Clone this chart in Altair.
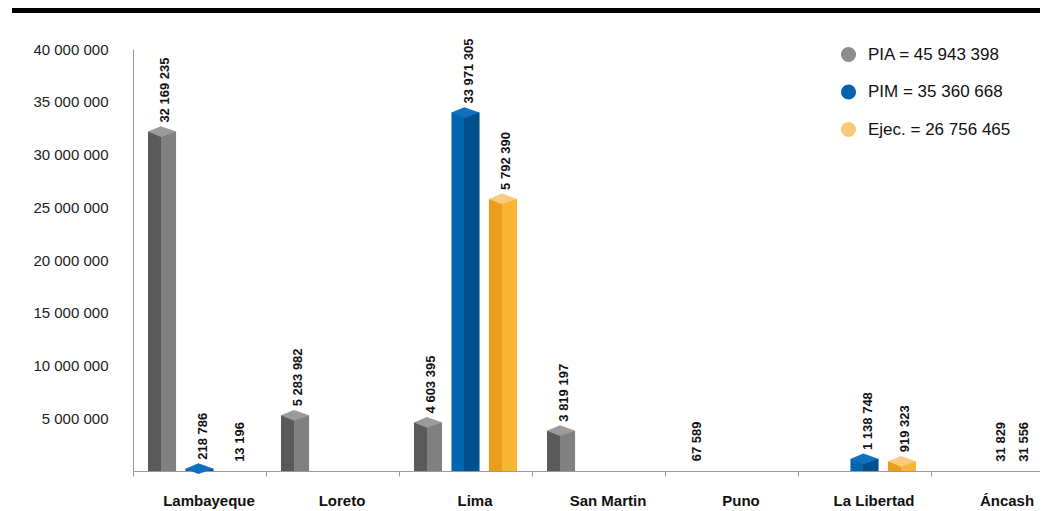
import altair as alt
import pandas as pd

categories = ["Lambayeque", "Loreto", "Lima", "San Martin", "Puno", "La Libertad", "Áncash"]
series = ["PIA", "PIM", "Ejec"]
pia = [32169235, 5283982, 4603395, 3819197, 67589, 0, 0]
pim = [218786, 0, 33971305, 0, 0, 1138748, 31829]
ejec = [13196, 0, 25792390, 0, 0, 919323, 31556]
pia_labels = ["32 169 235", "5 283 982", "4 603 395", "3 819 197", "67 589", "", ""]
pim_labels = ["218 786", "", "33 971 305", "", "", "1 138 748", "31 829"]
ejec_labels = ["13 196", "", "5 792 390", "", "", "919 323", "31 556"]
legend_labels = ["PIA = 45 943 398", "PIM = 35 360 668", "Ejec. = 26 756 465"]
y_ticks = [5000000, 10000000, 15000000, 20000000, 25000000, 30000000, 35000000, 40000000]

legend_colors = ["#8c8c8c", "#0563ad", "#fbc97a"]
faces = {
    "PIA": ("#5a5a5a", "#808080", "#9b9b9b"),
    "PIM": ("#0066b1", "#00508e", "#1170bd"),
    "Ejec": ("#ee9c1d", "#f8b634", "#fcca7c"),
}

rows = []
for s, vals, labs, leg in zip(series, [pia, pim, ejec], [pia_labels, pim_labels, ejec_labels], legend_labels):
    for c, v, l in zip(categories, vals, labs):
        rows.append({"category": c, "series": s, "value": v, "label": l, "legend": leg})
df = pd.DataFrame(rows)

FONT = "Liberation Sans, Arial, sans-serif"
PLOT_W = 907
BAND_RANGE = 931

x_enc = alt.X(
    "category:N", sort=categories,
    scale=alt.Scale(paddingInner=0, paddingOuter=0, range=[0, BAND_RANGE]),
    axis=alt.Axis(title=None, labelAngle=0, tickBand="extent", tickSize=5,
                  domainColor="#9a9a9a", tickColor="#9a9a9a",
                  labelFont=FONT, labelFontSize=15, labelBaseline="top",
                  labelFontWeight="bold", labelColor="#111111", labelPadding=17,
                  labelOffset=9),
)
xo_enc = alt.XOffset("series:N", sort=series,
                     scale=alt.Scale(domain=series, paddingInner=0.25, paddingOuter=0.4))
y_enc = alt.Y(
    "value:Q",
    scale=alt.Scale(domain=[0, 40000000], nice=False),
    axis=alt.Axis(title=None, values=y_ticks, ticks=False, grid=False,
                  domainColor="#9a9a9a", labelPadding=25,
                  labelExpr="format(datum.value / 1000000, 'd') + ' 000 000'",
                  labelFont=FONT, labelFontSize=15, labelColor="#222222"),
)

base = alt.Chart(df)
layers = []
for s in series:
    dark, light, top = faces[s]
    grad = alt.Gradient(
        gradient="linear", x1=0, x2=1, y1=0, y2=0,
        stops=[
            alt.GradientStop(offset=0, color=dark),
            alt.GradientStop(offset=0.46, color=dark),
            alt.GradientStop(offset=0.46, color=light),
            alt.GradientStop(offset=1, color=light),
        ],
    )
    layers.append(
        base.transform_filter(f"datum.series == '{s}' && datum.value > 100000")
        .mark_bar(color=grad)
        .encode(x=x_enc, xOffset=xo_enc, y=y_enc)
    )
    layers.append(
        base.transform_filter(f"datum.series == '{s}' && datum.value > 100000")
        .mark_point(shape="M -1 0 L -0.08 -0.38 L 1 0 L -0.08 0.38 Z",
                    filled=True, opacity=1, size=800, color=top, strokeWidth=0)
        .encode(x=x_enc, xOffset=xo_enc, y=y_enc)
    )

text_style = dict(angle=270, align="left", baseline="middle", dx=9,
                  font=FONT, fontSize=13, fontWeight="bold", color="#111111")
edge_cond = "datum.category == 'Áncash' && datum.series == 'Ejec'"
labels = base.transform_filter(f"datum.label != '' && !({edge_cond})").mark_text(
    dy=3, **text_style
).encode(x=x_enc, xOffset=xo_enc, y=y_enc, text="label:N")
labels_edge = base.transform_filter(f"datum.label != '' && ({edge_cond})").mark_text(
    dy=-11, **text_style
).encode(x=x_enc, xOffset=xo_enc, y=y_enc, text="label:N")

legend_pts = base.mark_point(filled=True, opacity=0).encode(
    x=x_enc, xOffset=xo_enc, y=y_enc,
    color=alt.Color(
        "legend:N",
        scale=alt.Scale(domain=legend_labels, range=legend_colors),
        legend=alt.Legend(
            title=None, orient="none", legendX=707, legendY=-3,
            symbolType="circle", symbolSize=230, symbolOpacity=1, symbolStrokeWidth=0,
            labelFont=FONT, labelFontSize=17,
            labelColor="#111111", rowPadding=19.5, labelOffset=11,
        ),
    ),
)

top_rule = alt.Chart(pd.DataFrame({"a": [0]})).mark_rule(color="black", strokeWidth=5).encode(
    x=alt.value(-121), x2=alt.value(925), y=alt.value(-38.5)
)

chart = alt.layer(*layers, labels, labels_edge, legend_pts, top_rule).properties(
    width=PLOT_W, height=422,
    autosize=alt.AutoSizeParams(type="none"),
    padding={"left": 125, "top": 41, "right": 0, "bottom": 40},
).configure_view(stroke=None)

chart.save("out.html", embed_options={"renderer": "svg", "actions": False})
